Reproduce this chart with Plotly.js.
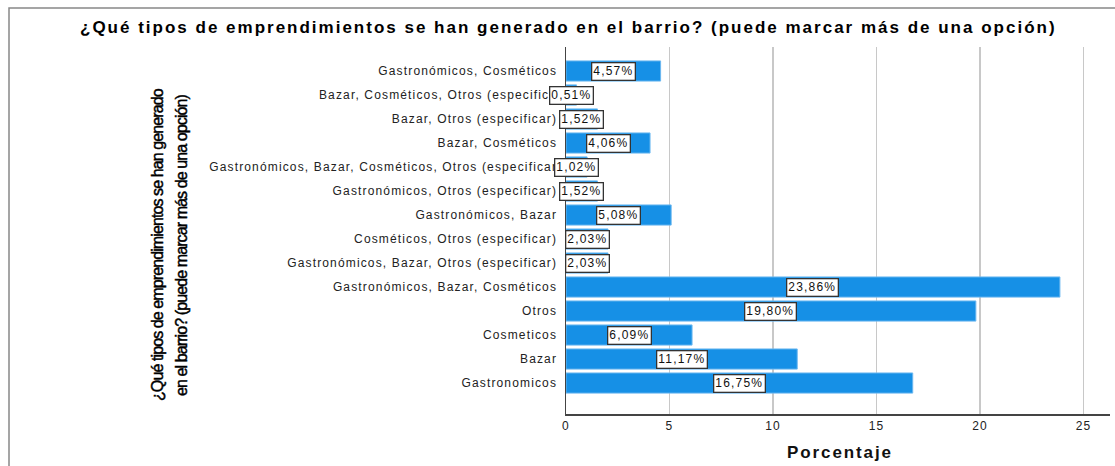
<!DOCTYPE html>
<html>
<head>
<meta charset="utf-8">
<script src="https://cdn.plot.ly/plotly-3.0.1.min.js"></script>
<style>
html,body{margin:0;padding:0;background:#fff;}
#chart{width:1115px;height:466px;}
.ytick text, .xtick text{letter-spacing:1.15px;}
</style>
</head>
<body>
<div id="chart"></div>
<script>
// Categories listed top to bottom as in the reference
const categories = [
  "Gastronómicos, Cosméticos",
  "Bazar, Cosméticos, Otros (especifica",
  "Bazar, Otros (especificar)",
  "Bazar, Cosméticos",
  "Gastronómicos, Bazar, Cosméticos, Otros (especificar",
  "Gastronómicos, Otros (especificar)",
  "Gastronómicos, Bazar",
  "Cosméticos, Otros (especificar)",
  "Gastronómicos, Bazar, Otros (especificar)",
  "Gastronómicos, Bazar, Cosméticos",
  "Otros",
  "Cosmeticos",
  "Bazar",
  "Gastronomicos"
];
const percentages = [4.57, 0.51, 1.52, 4.06, 1.02, 1.52, 5.08, 2.03, 2.03, 23.86, 19.80, 6.09, 11.17, 16.75];
const xTicks = [0, 5, 10, 15, 20, 25];

const chartTitle = "¿Qué tipos de emprendimientos se han generado en el barrio? (puede marcar más de una opción)";
const yTitleLines = ["¿Qué tipos de emprendimientos se han generado", "en el barrio? (puede marcar más de una opción)"];
const xTitle = "Porcentaje";

const cats = categories.slice().reverse();
const vals = percentages.slice().reverse();
const fmt = v => v.toFixed(2).replace('.', ',') + '%';
const spaced = (t, ls, extra) => '<span style="letter-spacing:' + ls + 'px' + (extra || '') + '">' + t + '</span>';

const W = 1115, H = 466;
const L = 566, R = 5, T = 47, B = 52;
const pw = W - L - R, ph = H - T - B;
const px = x => (x - L) / pw;
const py = y => (H - B - y) / ph;

const trace = {
  type: 'bar',
  orientation: 'h',
  y: cats,
  x: vals,
  marker: {color: '#1690e6', line: {color: '#6cb8f0', width: 1}},
  width: 0.84,
  hoverinfo: 'none'
};

const annotations = cats.map((c, i) => ({
  x: vals[i] / 2, y: c, xref: 'x', yref: 'y',
  text: spaced(fmt(vals[i]), 1.2), showarrow: false,
  bgcolor: '#ffffff', bordercolor: '#333333', borderwidth: 1.3, borderpad: 1,
  font: {family: 'Liberation Sans, Arial, sans-serif', size: 12, color: '#111'}
}));

annotations.push({
  xref: 'paper', yref: 'paper', x: px(568), y: py(27),
  text: '<b>' + spaced(chartTitle, 2) + '</b>', showarrow: false,
  xanchor: 'center', yanchor: 'middle',
  font: {family: 'Liberation Sans, Arial, sans-serif', size: 17, color: '#000'}
});
const yStroke = ';stroke:#000;stroke-width:0.45px';
annotations.push({
  xref: 'paper', yref: 'paper', x: px(157), y: py(245),
  text: spaced(yTitleLines[0], -0.9, yStroke), showarrow: false, textangle: -90,
  xanchor: 'center', yanchor: 'middle',
  font: {family: 'Liberation Sans, Arial, sans-serif', size: 16, color: '#000'}
});
annotations.push({
  xref: 'paper', yref: 'paper', x: px(181), y: py(245),
  text: spaced(yTitleLines[1], -0.9, yStroke), showarrow: false, textangle: -90,
  xanchor: 'center', yanchor: 'middle',
  font: {family: 'Liberation Sans, Arial, sans-serif', size: 16, color: '#000'}
});
annotations.push({
  xref: 'paper', yref: 'paper', x: px(840), y: py(452),
  text: '<b>' + spaced(xTitle, 1.9) + '</b>', showarrow: false,
  xanchor: 'center', yanchor: 'middle',
  font: {family: 'Liberation Sans, Arial, sans-serif', size: 17, color: '#111'}
});

const layout = {
  width: W, height: H,
  margin: {l: L, r: R, t: T, b: B, pad: 0},
  paper_bgcolor: '#fff', plot_bgcolor: '#fff',
  showlegend: false,
  xaxis: {
    range: [0, 26.28], tickvals: xTicks, ticktext: xTicks.map(String),
    showgrid: true, gridcolor: '#c8c8c8', gridwidth: 1.5,
    zeroline: false, showline: true, linecolor: '#444', linewidth: 1.5,
    ticks: '', ticklen: 0,
    tickfont: {family: 'Liberation Sans, Arial, sans-serif', size: 12, color: '#222'}
  },
  yaxis: {
    type: 'category', categoryorder: 'array', categoryarray: cats,
    range: [-1.29, 14.0], autorange: false,
    showgrid: false, zeroline: false, showline: true, linecolor: '#444', linewidth: 1.5,
    ticks: '', ticklen: 0, automargin: false, ticklabelstandoff: 5,
    tickfont: {family: 'Liberation Sans, Arial, sans-serif', size: 12, color: '#222'}
  },
  annotations: annotations,
  shapes: [{
    type: 'rect', xref: 'paper', yref: 'paper',
    x0: px(9), x1: px(1125), y0: py(480), y1: py(8),
    line: {color: '#888', width: 1.5}, fillcolor: 'rgba(0,0,0,0)', layer: 'below'
  }]
};

Plotly.newPlot('chart', [trace], layout, {displayModeBar: false, staticPlot: true});
</script>
</body>
</html>
